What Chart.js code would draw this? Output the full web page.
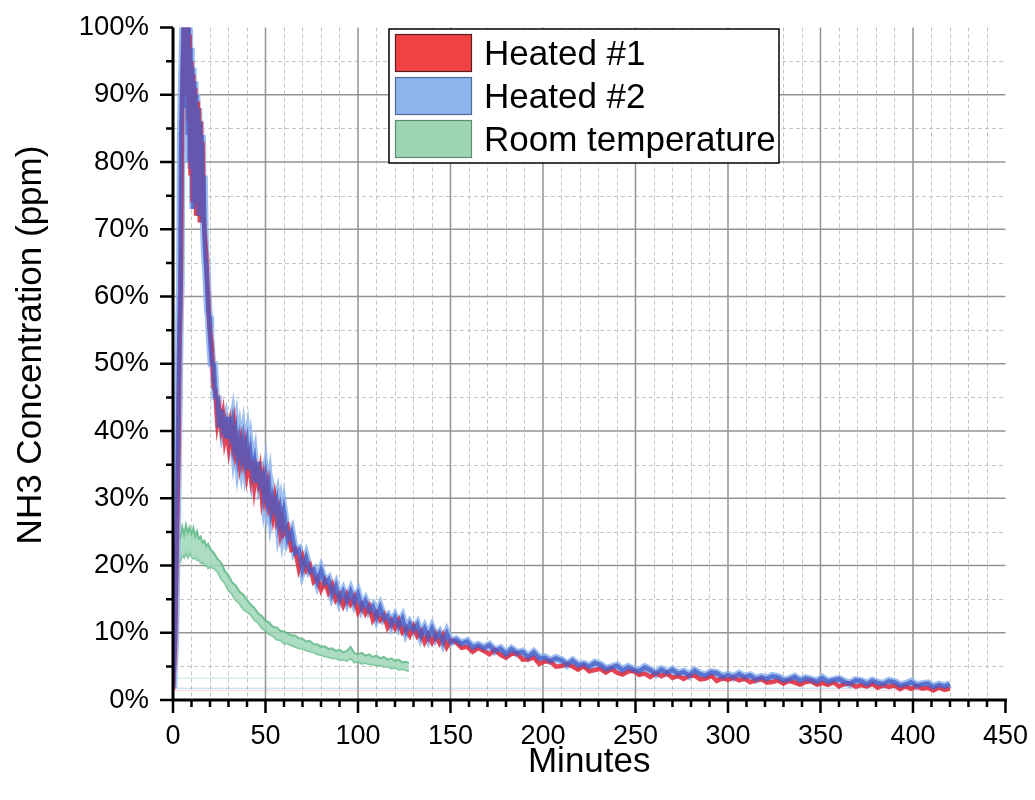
<!DOCTYPE html>
<html>
<head>
<meta charset="utf-8">
<title>NH3 Concentration</title>
<script src="https://cdn.jsdelivr.net/npm/chart.js@4.4.1/dist/chart.umd.min.js"></script>
<style>
  html, body { margin: 0; padding: 0; background: #fff; }
  #wrap { width: 1035px; height: 800px; }
</style>
</head>
<body>
<div id="wrap"><canvas id="nh3Chart"></canvas></div>
<script>
// Heated runs share one time base (minutes)
const heatedMinutes = [
  0, 1, 2, 3, 3.5, 4, 4.4, 5, 6, 6.5, 7, 7.5, 8, 8.5, 9, 9.5, 10, 10.5, 11, 11.5, 12, 12.5,
  13, 13.5, 14, 14.5, 15, 15.5, 16, 16.5, 17, 17.5, 18, 18.5, 19, 19.5, 20,
  21, 22, 23, 24, 25, 26, 27, 28, 29, 30, 31, 32, 33, 34, 35, 36, 37, 38, 39, 40,
  41, 42, 43, 44, 45, 46, 47, 48, 49, 50, 51, 52, 53, 54, 55, 56, 57, 58, 59, 60,
  62, 64, 66, 68, 70, 72, 74, 76, 78, 80, 82, 84, 86, 88, 90, 92, 94, 96, 98, 100,
  102, 104, 106, 108, 110, 112, 114, 116, 118, 120, 122, 124, 126, 128, 130, 132, 134, 136, 138, 140,
  142, 144, 146, 148, 150,
  153, 156, 159, 162, 165, 168, 171, 174, 177, 180, 183, 186, 189, 192, 195, 198, 201, 204, 207, 210,
  213, 216, 219, 222, 225, 228, 231, 234, 237, 240, 243, 246, 249, 252, 255, 258, 261, 264, 267, 270,
  273, 276, 279, 282, 285, 288, 291, 294, 297, 300, 303, 306, 309, 312, 315, 318, 321, 324, 327, 330,
  333, 336, 339, 342, 345, 348, 351, 354, 357, 360, 363, 366, 369, 372, 375, 378, 381, 384, 387, 390,
  393, 396, 399, 402, 405, 408, 411, 414, 417, 420
];

const heated1 = [
  1.5, 7, 22, 38, 52, 58, 66, 88, 103,
  97, 104, 90, 102, 86, 99, 78, 95, 74, 93, 76, 91, 72, 89, 78, 88, 71, 86, 75, 83, 72, 70, 68, 66, 62, 60, 56, 55,
  52.5, 46.6, 45.9, 41.4, 43.1, 40.7, 42.3, 38.8, 40.3, 37.9, 40.5, 38.3, 40.5, 36.9, 38.2, 35.6, 38.0, 35.8, 37.5, 33.9,
  35.8, 33.4, 35.7, 31.9, 34.0, 32.5, 34.1, 30.5, 32.6, 30.2, 31.8, 28.7, 29.5, 27.5, 29.6, 27.0, 28.1, 25.2, 26.8, 24.8,
  25.7, 22.3, 22.5, 19.5, 21.3, 19.3, 20.0, 17.6, 18.2, 16.4, 17.7, 16.0, 17.1, 14.9, 15.7, 14.1, 15.6, 14.3, 15.3, 13.1,
  14.2, 12.9, 13.9, 11.9, 12.9, 11.9, 12.6, 10.8, 11.8, 10.7, 11.8, 10.1, 10.7, 9.6, 10.9, 9.5, 10.2, 8.6, 9.7, 8.6,
  9.7, 8.5, 9.6, 7.9, 8.9,
  8.6, 7.75, 7.9, 7.15, 7.75, 7.3, 6.8, 7.45, 6.7, 6.3, 6.85, 6.95, 6.0, 6.05, 6.35, 5.35, 5.77, 5.74, 4.95, 5.04,
  5.37, 4.98, 4.51, 5.05, 4.26, 4.46, 4.63, 4.07, 4.63, 4.04, 3.77, 4.23, 4.33, 3.75, 3.92, 3.4, 3.97, 3.55, 3.98, 3.28,
  3.58, 3.13, 3.6, 3.63, 3.06, 3.18, 3.62, 2.82, 3.26, 2.99, 3.36, 2.92, 3.19, 2.63, 2.93, 3.14, 2.59, 2.67, 2.89, 2.44,
  2.88, 2.59, 2.3, 2.68, 2.83, 2.29, 2.5, 2.24, 2.63, 2.01, 2.4, 2.45, 2.0, 2.22, 2.02, 2.4, 1.82, 2.2, 1.94, 2.19,
  1.61, 2.03, 1.67, 2.08, 1.69, 1.81, 1.43, 1.87, 1.49, 1.71
];

const heated2 = [
  1.8, 9, 26, 45, 56, 62, 84, 92, 104,
  100, 88, 103, 84, 101, 80, 97, 79, 94, 73, 92, 74, 90, 76, 88, 72, 86, 74, 84, 71, 78, 69, 66, 64, 61, 58, 57, 54,
  50.0, 49.9, 45.1, 44.9, 40.5, 43.2, 40.4, 41.3, 38.9, 42.1, 39.6, 41.1, 37.9, 39.7, 36.5, 38.5, 36.2, 38.4, 35.8, 37.7,
  34.2, 36.5, 34.0, 35.4, 32.3, 35.4, 32.4, 33.2, 30.7, 32.8, 30.0, 31.7, 28.3, 29.9, 28.4, 29.5, 26.5, 28.1, 25.8, 27.8,
  23.9, 25.0, 21.9, 22.3, 19.4, 21.1, 19.1, 19.4, 17.6, 19.2, 17.4, 17.9, 15.7, 16.9, 14.9, 16.1, 14.7, 16.1, 14.5, 15.7,
  13.7, 14.7, 13.3, 13.9, 12.3, 13.7, 12.1, 12.5, 11.2, 12.3, 11.0, 12.1, 10.2, 11.3, 10.4, 11.2, 9.5, 10.6, 9.3, 10.6,
  9.2, 9.9, 8.6, 9.9, 8.6,
  8.95, 8.35, 8.7, 7.8, 8.15, 7.7, 8.15, 7.3, 7.65, 6.8, 7.55, 6.95, 7.15, 6.35, 7.05, 6.2, 6.29, 5.82, 6.19, 5.92,
  5.25, 5.82, 5.15, 5.33, 4.94, 5.5, 5.19, 4.59, 4.83, 5.08, 4.41, 4.87, 4.49, 4.27, 4.84, 4.44, 3.93, 4.51, 4.06, 4.48,
  3.9, 4.17, 3.64, 4.35, 3.82, 3.62, 4.1, 3.98, 3.42, 3.71, 3.38, 3.84, 3.4, 3.64, 3.08, 3.38, 3.15, 3.53, 3.36, 2.91,
  3.03, 3.41, 2.87, 3.21, 2.98, 2.72, 3.26, 2.71, 2.93, 3.09, 2.67, 2.44, 2.91, 2.79, 2.36, 2.83, 2.52, 2.35, 2.82, 2.63,
  2.17, 2.3, 2.65, 2.1, 2.32, 2.44, 1.9, 2.24, 1.99, 2.37
];

// Room temperature run: upper and lower edge of the noise band
const roomMinutes = [
  0, 0.5, 1, 1.5, 2, 3, 4, 5, 6, 7, 8, 9, 10, 11, 12, 13, 14, 15, 16, 17, 18, 19, 20,
  22, 24, 26, 28, 30, 32, 34, 36, 38, 40, 42, 44, 46, 48, 50, 52, 54, 56, 58, 60,
  62, 64, 66, 68, 70, 72, 74, 76, 78, 80, 82, 84, 86, 88, 90, 92, 94, 96, 98, 100,
  102, 104, 106, 108, 110, 112, 114, 116, 118, 120, 122, 124, 126, 127.5
];
const roomHigh = [
  3.2, 12, 20, 22.5, 23.8, 24.6, 24.2, 25.8, 24.6, 26.0, 24.9, 25.7, 24.7, 25.6, 24.3, 25.1, 24.0, 24.3, 23.4, 23.7, 22.9, 23.2, 22.5,
  21.9, 21.0, 20.4, 19.2, 18.5, 17.5, 17.0, 16.1, 15.7, 14.9, 14.2, 13.7, 12.9, 12.5, 11.8, 11.5, 10.9, 10.8, 10.3, 10.2,
  9.9, 9.6, 9.6, 9.2, 9.1, 8.7, 8.8, 8.3, 8.3, 7.9, 8.0, 7.6, 7.7, 7.3, 7.5, 7.1, 7.3, 7.9, 7.0, 6.8,
  7.0, 6.6, 6.8, 6.4, 6.6, 6.2, 6.4, 6.0, 6.2, 5.8, 6.0, 5.6, 5.7, 5.5
];
const roomLow = [
  2.6, 8, 16.5, 19.2, 20.4, 21.0, 20.6, 21.6, 21.2, 22.0, 21.2, 21.9, 21.3, 21.0, 21.2, 20.8, 20.9, 20.4, 20.5, 20.0, 20.1, 19.6, 19.8,
  19.6, 19.1, 18.0, 17.4, 16.3, 15.7, 14.8, 14.3, 13.5, 13.1, 12.7, 11.9, 11.5, 10.7, 10.3, 9.8, 9.5, 9.0, 8.9, 8.4,
  8.4, 8.1, 7.9, 7.7, 7.6, 7.4, 7.2, 7.1, 6.8, 6.7, 6.5, 6.4, 6.2, 6.2, 6.0, 6.0, 5.8, 6.2, 5.6, 5.7,
  5.4, 5.5, 5.3, 5.3, 5.1, 5.2, 4.9, 5.0, 4.7, 4.8, 4.5, 4.6, 4.4, 4.3
];

// faint flat lines along the bottom of each trace
const heatedBaseMinutes = [0, 420];
const heated1Base = [1.45, 1.45];
const heated2Base = [1.75, 1.75];
const roomBaseMinutes = [0, 127.5];
const roomBase = [3.25, 3.25];

const xTickStep = 50;
const yTickStep = 10;

const legendLabels = ['Heated #1', 'Heated #2', 'Room temperature'];
const legendFill = ['#f14243', '#8db4ec', '#9dd5b5'];
const legendEdge = ['#5a1c1c', '#4d6a98', '#5e8c70'];

const FONT = "'Liberation Sans', Arial, sans-serif";

const pts = (xs, ys) => xs.map((x, i) => ({ x: x, y: ys[i] }));

// grid, axes, ticks, axis titles and the boxed legend
const framePlugin = {
  id: 'framePlugin',
  beforeDatasetsDraw(chart) {
    const { ctx, chartArea: a, scales: { x, y } } = chart;
    ctx.save();
    ctx.lineWidth = 1;
    ctx.strokeStyle = '#c4c4c4';
    ctx.setLineDash([4, 3]);
    ctx.beginPath();
    for (let v = 10; v < 450; v += 10) {
      if (v % 50 === 0) continue;
      const px = Math.round(x.getPixelForValue(v)) + 0.5;
      ctx.moveTo(px, a.top); ctx.lineTo(px, a.bottom);
    }
    for (let v = 5; v < 100; v += 10) {
      const py = Math.round(y.getPixelForValue(v)) + 0.5;
      ctx.moveTo(a.left, py); ctx.lineTo(a.right, py);
    }
    ctx.stroke();
    ctx.setLineDash([]);
    ctx.strokeStyle = '#939393';
    ctx.lineWidth = 1.5;
    ctx.beginPath();
    for (let v = 50; v < 450; v += 50) {
      const px = x.getPixelForValue(v);
      ctx.moveTo(px, a.top); ctx.lineTo(px, a.bottom);
    }
    for (let v = 10; v < 100; v += 10) {
      const py = y.getPixelForValue(v);
      ctx.moveTo(a.left, py); ctx.lineTo(a.right, py);
    }
    ctx.stroke();
    ctx.restore();
  },
  afterDatasetsDraw(chart) {
    const { ctx, chartArea: a, scales: { x, y } } = chart;
    ctx.save();
    // axis lines
    ctx.strokeStyle = '#000';
    ctx.lineWidth = 3;
    ctx.beginPath();
    ctx.moveTo(a.left, a.top);
    ctx.lineTo(a.left, a.bottom);
    ctx.moveTo(a.left - 1.5, a.bottom);
    ctx.lineTo(a.right + 1.5, a.bottom);
    ctx.stroke();
    // ticks
    ctx.lineWidth = 2.5;
    ctx.beginPath();
    for (let v = 0; v <= 450; v += 10) {
      const px = x.getPixelForValue(v);
      ctx.moveTo(px, a.bottom);
      ctx.lineTo(px, a.bottom + (v % 50 === 0 ? 13 : 7));
    }
    for (let v = 0; v <= 100; v += 5) {
      const py = y.getPixelForValue(v);
      ctx.moveTo(a.left, py);
      ctx.lineTo(a.left - (v % 10 === 0 ? 13 : 7), py);
    }
    ctx.stroke();

    // axis titles
    ctx.fillStyle = '#000';
    ctx.font = '35px ' + FONT;
    ctx.textAlign = 'center';
    ctx.textBaseline = 'alphabetic';
    ctx.fillText('Minutes', (a.left + a.right) / 2, 772);
    ctx.save();
    ctx.translate(41, 345);
    ctx.rotate(-Math.PI / 2);
    ctx.fillText('NH3 Concentration (ppm)', 0, 0);
    ctx.restore();

    // legend box
    const bx = 389, by = 29, bw = 390, bh = 134;
    ctx.fillStyle = '#fff';
    ctx.fillRect(bx, by, bw, bh);
    ctx.strokeStyle = '#000';
    ctx.lineWidth = 1.5;
    ctx.strokeRect(bx, by, bw, bh);
    ctx.font = '35px ' + FONT;
    ctx.textAlign = 'left';
    ctx.textBaseline = 'middle';
    legendLabels.forEach((label, i) => {
      const sy = 34 + i * 43;
      ctx.fillStyle = legendFill[i];
      ctx.fillRect(395, sy, 77, 38);
      ctx.strokeStyle = legendEdge[i];
      ctx.lineWidth = 1.2;
      ctx.strokeRect(395.5, sy + 0.5, 76, 37);
      ctx.fillStyle = '#000';
      ctx.fillText(label, 484, sy + 21);
    });
    ctx.restore();
  }
};

const ctx = document.getElementById('nh3Chart').getContext('2d');
const nh3Chart = new Chart(ctx, {
  type: 'line',
  data: {
    datasets: [
      {
        label: 'Heated #2',
        data: pts(heatedMinutes, heated2),
        borderColor: 'rgba(70, 94, 200, 0.78)',
        borderWidth: 4.5,
        pointRadius: 0,
        fill: false
      },
      {
        label: 'Heated #1',
        data: pts(heatedMinutes, heated1),
        borderColor: 'rgba(226, 44, 62, 0.88)',
        borderWidth: 4.5,
        pointRadius: 0,
        fill: false
      },
      {
        label: 'Heated #2 halo',
        data: pts(heatedMinutes, heated2),
        borderColor: 'rgba(141, 180, 236, 0.85)',
        borderWidth: 8.5,
        pointRadius: 0,
        fill: false
      },
      {
        label: 'Room temperature',
        data: pts(roomMinutes, roomHigh),
        borderColor: 'rgba(96, 184, 134, 0.85)',
        backgroundColor: 'rgba(158, 214, 182, 0.85)',
        borderWidth: 2,
        pointRadius: 0,
        fill: '+1'
      },
      {
        label: 'Room temperature low',
        data: pts(roomMinutes, roomLow),
        borderColor: 'rgba(96, 184, 134, 0.85)',
        borderWidth: 2,
        pointRadius: 0,
        fill: false
      },
      {
        label: 'Heated #2 base',
        data: pts(heatedBaseMinutes, heated2Base),
        borderColor: 'rgba(141, 180, 236, 0.55)',
        borderWidth: 1,
        pointRadius: 0,
        fill: false
      },
      {
        label: 'Heated #1 base',
        data: pts(heatedBaseMinutes, heated1Base),
        borderColor: 'rgba(240, 140, 150, 0.4)',
        borderWidth: 1,
        pointRadius: 0,
        fill: false
      },
      {
        label: 'Room base',
        data: pts(roomBaseMinutes, roomBase),
        borderColor: 'rgba(158, 214, 182, 0.6)',
        borderWidth: 1,
        pointRadius: 0,
        fill: false
      }
    ]
  },
  options: {
    responsive: true,
    maintainAspectRatio: false,
    animation: false,
    events: [],
    layout: {
      padding: { left: 0, top: 25, right: 27, bottom: 0 }
    },
    plugins: {
      legend: { display: false },
      tooltip: { enabled: false }
    },
    elements: {
      line: { tension: 0, borderJoinStyle: 'miter' }
    },
    scales: {
      x: {
        type: 'linear',
        min: 0,
        max: 450,
        afterFit: function(scale) { scale.height = 100; },
        border: { display: false },
        grid: { drawOnChartArea: false, tickLength: 13, tickColor: 'rgba(0,0,0,0)' },
        ticks: {
          stepSize: xTickStep,
          padding: 7,
          maxRotation: 0,
          autoSkip: false,
          color: '#000',
          font: { family: FONT, size: 27 }
        }
      },
      y: {
        min: 0,
        max: 100,
        afterFit: function(scale) { scale.width = 173; },
        border: { display: false },
        grid: { drawOnChartArea: false, tickLength: 13, tickColor: 'rgba(0,0,0,0)' },
        ticks: {
          stepSize: yTickStep,
          padding: 11,
          color: '#000',
          font: { family: FONT, size: 27.5 },
          callback: function(value) {
            return value + '%';
          }
        }
      }
    }
  },
  plugins: [framePlugin]
});
</script>
</body>
</html>
